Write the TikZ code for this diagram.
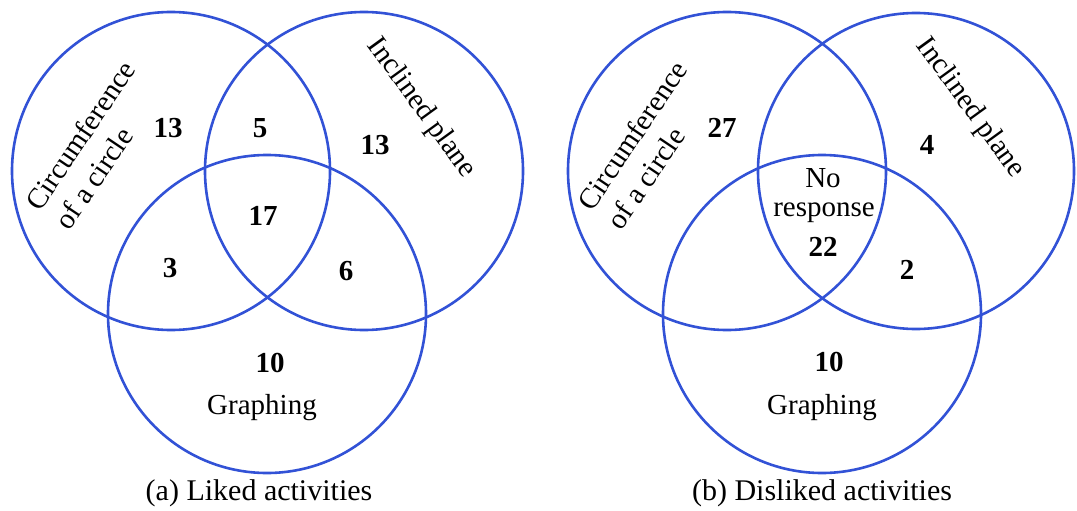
\documentclass[tikz,border=0pt]{standalone}
\usepackage{fontspec}
\setmainfont{Liberation Serif}
\begin{document}
\begin{tikzpicture}[x=1pt,y=-1pt,
  venn/.style={draw=vennblue, line width=2.6pt},
  num/.style={font=\fontsize{29}{33}\selectfont\bfseries, inner sep=0pt},
  lbl/.style={font=\fontsize{29}{35}\selectfont, inner sep=0pt},
  captext/.style={font=\fontsize{30}{34}\selectfont, inner sep=0pt}]
\definecolor{vennblue}{RGB}{50,82,214}
\useasboundingbox (0,0) rectangle (1077,511);

% (a) Liked activities
\draw[venn] (171,171) circle[radius=159];
\draw[venn] (364,171) circle[radius=159];
\draw[venn] (267,314) circle[radius=159];
\node[lbl, rotate=56, align=left] (ac) at (95,145) {Circumference\\of a circle};
\node[lbl, rotate=-54] (ai) at (421,108) {Inclined plane};
\node[lbl] (ag) at (262,408) {Graphing};
\node[num] (a1) at (168,128) {13};
\node[num] (a2) at (260,128) {5};
\node[num] (a3) at (375,145) {13};
\node[num] (a4) at (263,216) {17};
\node[num] (a5) at (170,268) {3};
\node[num] (a6) at (346,271) {6};
\node[num] (a7) at (270,363) {10};
\node[captext] (acap) at (259,493) {(a) Liked activities};

% (b) Disliked activities
\draw[venn] (727,171) circle[radius=159];
\draw[venn] (916,171) circle[radius=158];
\draw[venn] (822,314) circle[radius=159];
\node[lbl, rotate=56, align=left] (bc) at (647,145) {Circumference\\of a circle};
\node[lbl, rotate=-54] (bi) at (970,108) {Inclined plane};
\node[lbl] (bg) at (822,408) {Graphing};
\node[num] (b1) at (722,128) {27};
\node[num] (b2) at (927,145) {4};
\node[lbl] (bn) at (823,178) {No};
\node[lbl] (br) at (824,213) {response};
\node[num] (b3) at (823,247) {22};
\node[num] (b4) at (907,270) {2};
\node[num] (b5) at (829,362) {10};
\node[captext] (bcap) at (822,493) {(b) Disliked activities};
\end{tikzpicture}
\end{document}
